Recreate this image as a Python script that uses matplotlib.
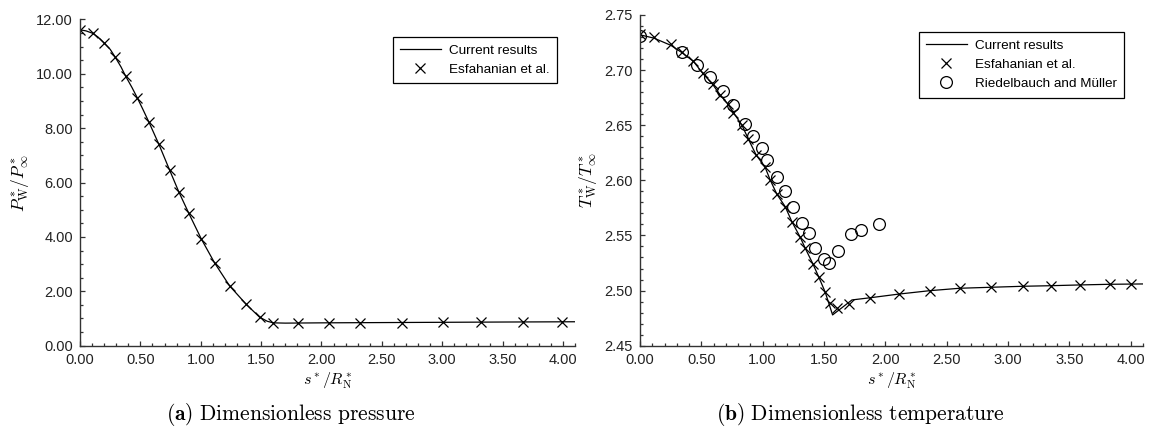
import matplotlib
matplotlib.use('Agg')
import matplotlib.pyplot as plt
from matplotlib.ticker import MultipleLocator, FormatStrFormatter

plt.rcParams['font.family'] = ['Liberation Sans', 'DejaVu Sans']
plt.rcParams['mathtext.fontset'] = 'cm'

# (a) pressure: Esfahanian et al. markers
p_esf_s = [0.00, 0.106, 0.197, 0.292, 0.377, 0.474, 0.570, 0.653, 0.742, 0.819, 0.901,
           1.004, 1.114, 1.239, 1.377, 1.487, 1.597, 1.804, 2.06, 2.32, 2.67, 3.01, 3.32, 3.67, 3.99]
p_esf = [11.62, 11.49, 11.15, 10.61, 9.92, 9.12, 8.23, 7.41, 6.46, 5.65, 4.87,
         3.93, 3.05, 2.20, 1.52, 1.07, 0.82, 0.85, 0.85, 0.85, 0.85, 0.87, 0.87, 0.87, 0.87]
# (a) pressure: current results line
p_cur_s = [0.00, 0.05, 0.106, 0.15, 0.197, 0.25, 0.292, 0.34, 0.377, 0.43, 0.474, 0.52, 0.570,
           0.653, 0.742, 0.819, 0.901, 1.004, 1.114, 1.239, 1.377, 1.487, 1.55, 1.60, 1.70,
           2.00, 2.50, 3.00, 3.50, 4.10]
p_cur = [11.62, 11.58, 11.49, 11.35, 11.15, 10.90, 10.61, 10.25, 9.92, 9.50, 9.12, 8.70, 8.23,
         7.41, 6.46, 5.65, 4.87, 3.93, 3.05, 2.20, 1.52, 1.05, 0.90, 0.84, 0.83,
         0.84, 0.85, 0.86, 0.87, 0.88]

# (b) temperature: Esfahanian et al. markers
t_esf_s = [0.000, 0.114, 0.251, 0.340, 0.435, 0.512, 0.593, 0.653, 0.716, 0.762, 0.830,
           0.884, 0.947, 1.020, 1.061, 1.116, 1.184, 1.238, 1.306, 1.347, 1.410, 1.456,
           1.510, 1.551, 1.606, 1.700, 1.878, 2.109, 2.362, 2.607, 2.865, 3.124, 3.347,
           3.584, 3.831, 4.006]
t_esf = [2.7329, 2.7299, 2.7235, 2.7162, 2.7086, 2.6972, 2.6872, 2.6775, 2.6693, 2.6614, 2.6503,
         2.6373, 2.6230, 2.6119, 2.6004, 2.5874, 2.5761, 2.5625, 2.5484, 2.5384, 2.5241, 2.5126,
         2.4985, 2.4885, 2.4839, 2.4876, 2.4930, 2.4966, 2.4999, 2.5021, 2.5030, 2.5039, 2.5044,
         2.5051, 2.5057, 2.5057]
# (b) temperature: Riedelbauch and Mueller markers
t_rm_s = [0.000, 0.340, 0.463, 0.571, 0.675, 0.762, 0.857, 0.925, 0.993, 1.039, 1.116,
          1.184, 1.247, 1.320, 1.380, 1.429, 1.496, 1.543, 1.614, 1.717, 1.804, 1.945]
t_rm = [2.7310, 2.7160, 2.7050, 2.6940, 2.6810, 2.6680, 2.6510, 2.6400, 2.6290, 2.6180, 2.6030,
        2.5900, 2.5760, 2.5610, 2.5520, 2.5390, 2.5290, 2.5250, 2.5360, 2.5510, 2.5550, 2.5600]
# (b) temperature: current results line
t_cur_s = [0.000, 0.114, 0.251, 0.340, 0.435, 0.512, 0.593, 0.653, 0.716, 0.762, 0.830,
           0.884, 0.947, 1.020, 1.061, 1.116, 1.184, 1.238, 1.306, 1.347, 1.410, 1.456,
           1.510, 1.570, 1.728, 1.878, 2.109, 2.362, 2.607, 2.865, 3.124, 3.347, 3.584,
           3.831, 4.100]
t_cur = [2.7320, 2.7290, 2.7225, 2.7160, 2.7080, 2.6970, 2.6870, 2.6775, 2.6693, 2.6614, 2.6503,
         2.6373, 2.6230, 2.6119, 2.6004, 2.5874, 2.5761, 2.5625, 2.5484, 2.5384, 2.5241, 2.5126,
         2.4985, 2.4779, 2.4915, 2.4935, 2.4968, 2.4999, 2.5021, 2.5030, 2.5039, 2.5044, 2.5051,
         2.5057, 2.5060]

fig = plt.figure(figsize=(11.5, 4.34), dpi=100)
ax1 = fig.add_axes([0.0696, 0.2035, 0.4304, 0.7516])
ax2 = fig.add_axes([0.5565, 0.2035, 0.4374, 0.7620])

spine_col = '#333333'
for ax in (ax1, ax2):
    ax.spines['top'].set_visible(False)
    ax.spines['right'].set_visible(False)
    for s in ('left', 'bottom'):
        ax.spines[s].set_linewidth(1.0)
        ax.spines[s].set_color(spine_col)
    ax.tick_params(which='both', direction='in', color=spine_col, labelsize=10.5,
                   labelcolor='#222222', width=0.9)
    ax.tick_params(which='major', length=3.5, pad=5)
    ax.tick_params(which='minor', length=2.2)
    ax.set_xlim(0, 4.1)
    ax.xaxis.set_major_locator(MultipleLocator(0.5))
    ax.xaxis.set_minor_locator(MultipleLocator(0.1))
    ax.xaxis.set_major_formatter(FormatStrFormatter('%.2f'))
    ax.yaxis.set_major_formatter(FormatStrFormatter('%.2f'))
    ax.set_xlabel(r'$s^*/R^*_\mathrm{N}$', fontsize=11.5, labelpad=3)

# (a)
ax1.plot(p_cur_s, p_cur, color='black', lw=0.9, label='Current results')
ax1.plot(p_esf_s, p_esf, ls='none', marker='x', ms=6.5, mew=0.9, color='black',
         label='Esfahanian et al.')
ax1.set_ylim(0, 12)
ax1.yaxis.set_major_locator(MultipleLocator(2))
ax1.yaxis.set_minor_locator(MultipleLocator(0.5))
ax1.set_ylabel(r'$P^*_\mathrm{W}/P^*_\infty$', fontsize=12.5, labelpad=4)

# (b)
ax2.plot(t_cur_s, t_cur, color='black', lw=0.9, label='Current results')
ax2.plot(t_esf_s, t_esf, ls='none', marker='x', ms=6.5, mew=0.9, color='black',
         label='Esfahanian et al.')
ax2.plot(t_rm_s, t_rm, ls='none', marker='o', ms=8.5, mew=0.9, mfc='none', mec='black',
         label='Riedelbauch and Müller')
ax2.set_ylim(2.45, 2.75)
ax2.yaxis.set_major_locator(MultipleLocator(0.05))
ax2.yaxis.set_minor_locator(MultipleLocator(0.01))
ax2.set_ylabel(r'$T^*_\mathrm{W}/T^*_\infty$', fontsize=12.5, labelpad=4)

leg_kw = dict(loc='upper right', bbox_transform=fig.transFigure, borderaxespad=0,
              fontsize=9.7, fancybox=False, framealpha=1, edgecolor='black',
              handlelength=3.0, handletextpad=0.6, labelspacing=0.5, borderpad=0.55)
l1 = ax1.legend(bbox_to_anchor=(0.4841, 0.9147), **leg_kw)
l2 = ax2.legend(bbox_to_anchor=(0.9774, 0.9263), **leg_kw)
for l in (l1, l2):
    l.get_frame().set_linewidth(0.9)

fig.text(291 / 1150, 1 - 415 / 434, r'$\mathbf{(a)}\ \mathrm{Dimensionless\ pressure}$',
         ha='center', va='center', fontsize=15.5)
fig.text(860 / 1150, 1 - 415 / 434, r'$\mathbf{(b)}\ \mathrm{Dimensionless\ temperature}$',
         ha='center', va='center', fontsize=15.5)

fig.savefig('out.png', dpi=100)
